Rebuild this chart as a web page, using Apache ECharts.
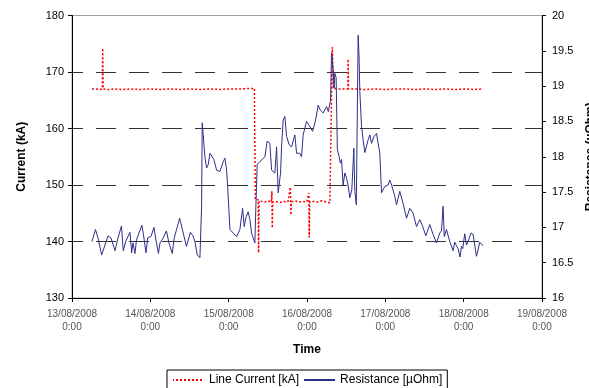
<!DOCTYPE html>
<html>
<head>
<meta charset="utf-8">
<script src="https://cdn.jsdelivr.net/npm/echarts@6/dist/echarts.min.js"></script>
<style>
  html, body { margin: 0; padding: 0; background: #fff; }
  #chart { width: 589px; height: 388px; }
</style>
</head>
<body>
<div id="chart"></div>
<script>
// Time axis runs in hours counted from 13/08/2008 0:00
const START_UTC = Date.UTC(2008, 7, 13, 0, 0);
const dayTicksHours = [0, 24, 48, 72, 96, 120, 144];

// Line current [kA], left axis
const currentHours = [
  6.12, 7.35, 8.57, 9.28, 9.40, 9.55, 11.02, 13.17, 15.31, 17.76, 20.82, 23.88,
  26.95, 30.01, 33.07, 36.13, 39.19, 42.26, 45.32, 48.38, 51.44, 54.50, 55.88,
  56.19, 56.65, 57.04, 57.17, 57.32, 58.18, 59.10, 60.01, 61.09, 61.24, 61.36,
  61.51, 62.46, 63.69, 64.91, 66.14, 66.90, 67.06, 67.21, 68.28, 69.51, 70.73,
  71.96, 72.57, 72.69, 72.82, 74.10, 75.33, 76.55, 77.78, 79.00, 79.46, 79.77,
  80.07, 81.45, 82.98, 84.51, 84.60, 84.73, 86.65, 89.72, 92.78, 95.84, 98.90,
  101.96, 105.03, 108.09, 111.15, 114.21, 117.27, 120.33, 123.40, 125.85
];
const currentValues = [
  167.0, 167.0, 166.9, 167.0, 174.2, 167.0, 166.9, 167.0, 166.9, 167.0, 166.9, 167.0,
  166.9, 167.0, 166.9, 167.0, 166.9, 167.0, 166.9, 167.0, 167.0, 167.1, 167.1,
  147.4, 147.7, 147.4, 138.0, 147.2, 147.1, 147.0, 147.2, 147.0, 148.9, 142.4,
  147.0, 147.1, 146.9, 147.1, 147.0, 149.6, 144.7, 147.0, 147.2, 147.0, 147.1,
  147.0, 148.6, 140.7, 147.0, 147.1, 147.0, 147.2, 147.0, 146.85, 146.5, 174.4,
  167.1, 167.0, 167.0, 167.0, 172.3, 167.0, 167.0, 166.9, 167.0, 166.9, 167.0,
  167.0, 166.9, 167.0, 166.9, 167.0, 166.9, 167.0, 166.9, 167.0
];

// Resistance [µOhm], right axis
const resistanceHours = [
  6.12, 7.20, 7.96, 9.09, 10.10, 11.02, 11.94, 13.17, 14.09, 15.16, 15.71, 16.53,
  17.76, 18.28, 18.68, 19.29, 19.75, 20.52, 21.43, 22.14, 22.66, 23.18, 24.19, 25.11,
  25.72, 26.49, 26.95, 27.96, 28.94, 29.70, 30.71, 31.32, 32.15, 32.98, 34.08, 35.06,
  36.28, 37.05, 37.66, 38.37, 39.19, 39.71, 39.90, 40.20, 40.72, 41.24, 41.74, 42.26,
  42.78, 43.48, 44.31, 45.32, 46.33, 46.85, 47.37, 47.68, 48.07, 48.38, 49.39, 50.43,
  51.44, 52.27, 52.76, 53.28, 53.98, 54.50, 55.02, 55.51, 56.03, 56.34, 56.74, 57.57,
  58.18, 59.10, 59.80, 60.63, 61.15, 62.16, 62.68, 63.17, 63.90, 64.21, 64.70, 65.22,
  65.74, 66.54, 67.27, 68.28, 68.80, 69.81, 70.33, 70.82, 71.87, 72.72, 73.70, 74.56,
  75.42, 76.09, 76.95, 77.99, 78.54, 79.21, 79.52, 80.01, 80.32, 80.53, 80.93, 81.30,
  81.85, 82.21, 82.58, 83.07, 83.59, 84.11, 84.60, 85.12, 85.73, 86.35, 86.65, 87.11,
  87.67, 87.94, 88.19, 88.71, 89.20, 89.72, 90.73, 91.25, 91.77, 92.57, 93.30, 93.79,
  94.31, 94.83, 95.84, 96.85, 97.37, 97.98, 98.90, 99.42, 100.43, 101.44, 102.49, 103.50,
  104.51, 105.55, 106.56, 107.48, 108.40, 109.62, 110.63, 111.67, 112.68, 113.20, 113.69, 114.06,
  114.73, 115.74, 116.75, 117.27, 117.79, 118.28, 118.90, 119.32, 119.72, 120.33, 120.85, 121.34,
  122.26, 122.88, 123.92, 124.41, 124.93, 125.45, 125.94
];
const resistanceValues = [
  16.80, 16.97, 16.85, 16.61, 16.75, 16.88, 16.85, 16.67, 16.85, 17.02, 16.67, 16.81,
  16.93, 16.64, 16.78, 16.63, 16.82, 16.92, 17.03, 16.82, 16.64, 16.85, 16.87, 17.00,
  16.82, 16.63, 16.78, 16.85, 16.95, 16.78, 16.63, 16.85, 16.99, 17.13, 16.92, 16.73,
  16.93, 16.88, 16.80, 16.61, 16.57, 17.30, 18.48, 18.31, 18.00, 17.84, 17.89, 18.05,
  18.07, 17.96, 17.81, 17.79, 17.93, 17.98, 17.81, 17.58, 17.25, 16.97, 16.92, 16.87,
  16.97, 17.27, 17.01, 17.14, 17.22, 17.11, 16.92, 16.85, 16.78, 17.30, 17.89, 17.93,
  17.92, 18.00, 18.22, 18.19, 17.81, 17.77, 18.14, 17.49, 17.77, 18.14, 18.52, 18.57,
  18.29, 18.17, 18.14, 18.31, 18.05, 18.05, 18.00, 18.31, 18.50, 18.44, 18.36, 18.50,
  18.73, 18.66, 18.62, 18.71, 18.64, 18.80, 19.47, 19.23, 18.97, 19.18, 19.12, 18.10,
  18.00, 17.91, 17.96, 17.60, 17.77, 17.70, 17.59, 17.42, 17.53, 18.12, 17.51, 17.32,
  19.72, 19.44, 18.92, 18.43, 18.24, 18.06, 18.24, 18.31, 18.19, 18.29, 18.33, 18.19,
  18.05, 17.49, 17.58, 17.60, 17.67, 17.59, 17.44, 17.32, 17.51, 17.34, 17.13, 17.27,
  17.20, 17.01, 17.11, 17.01, 16.88, 17.04, 16.90, 16.78, 16.92, 16.95, 17.30, 16.87,
  16.97, 16.80, 16.67, 16.79, 16.74, 16.70, 16.58, 16.73, 16.70, 16.91, 16.75, 16.80,
  16.92, 16.90, 16.59, 16.68, 16.79, 16.80, 16.74
];

const pad2 = n => (n < 10 ? '0' : '') + n;
function dayLabel(hours) {
  const d = new Date(START_UTC + hours * 3600000);
  return pad2(d.getUTCDate()) + '/' + pad2(d.getUTCMonth() + 1) + '/' + d.getUTCFullYear() +
    '\n' + d.getUTCHours() + ':' + pad2(d.getUTCMinutes());
}

const FONT = '"Liberation Sans", Arial, sans-serif';
const chart = echarts.init(document.getElementById('chart'), null, { renderer: 'canvas' });

chart.setOption({
  animation: false,
  backgroundColor: '#ffffff',
  textStyle: { fontFamily: FONT },
  grid: {
    left: 72, right: 47, top: 15.5, bottom: 90,
    outerBoundsMode: 'none',
    containLabel: false,
    show: true, borderColor: '#a0a0a0', borderWidth: 1, backgroundColor: 'transparent'
  },
  legend: {
    left: 167, top: 370,
    padding: [4, 5, 4, 5],
    itemGap: 4,
    itemWidth: 31, itemHeight: 12,
    borderColor: '#000', borderWidth: 1,
    itemStyle: { color: 'rgba(0,0,0,0)', borderWidth: 0, opacity: 0 },
    textStyle: { fontFamily: FONT, fontSize: 12, color: '#000' },
    data: ['Line Current [kA]', 'Resistance [µOhm]']
  },
  xAxis: {
    type: 'value',
    min: dayTicksHours[0], max: dayTicksHours[dayTicksHours.length - 1], interval: 24,
    name: 'Time', nameLocation: 'middle', nameGap: 46,
    nameTextStyle: { fontFamily: FONT, fontSize: 12, fontWeight: 'bold', color: '#000' },
    axisLine: { show: true, onZero: false, lineStyle: { color: '#000', width: 1 } },
    axisTick: { show: true, length: 4, lineStyle: { color: '#000' } },
    axisLabel: { formatter: dayLabel, fontFamily: FONT, fontSize: 10, color: '#555', margin: 10, lineHeight: 13 },
    splitLine: { show: false }
  },
  yAxis: [
    {
      type: 'value', position: 'left',
      min: 130, max: 180, interval: 10,
      name: 'Current (kA)', nameLocation: 'middle', nameGap: 44, nameRotate: 90,
      nameTextStyle: { fontFamily: FONT, fontSize: 12, fontWeight: 'bold', color: '#000' },
      axisLine: { show: true, lineStyle: { color: '#000', width: 1 } },
      axisTick: { show: true, length: 4, lineStyle: { color: '#000' } },
      axisLabel: { fontFamily: FONT, fontSize: 11, color: '#000', margin: 8 },
      splitLine: {
        show: true,
        lineStyle: {
          type: [20, 13], dashOffset: 9, width: 1,
          color: ['#333', '#333', '#333', '#333', '#333', 'rgba(0,0,0,0)']
        }
      }
    },
    {
      type: 'value', position: 'right',
      min: 16, max: 20, interval: 0.5,
      name: 'Resistance (µOhm)', nameLocation: 'middle', nameGap: 38, nameRotate: 90,
      nameTextStyle: { fontFamily: FONT, fontSize: 12, fontWeight: 'bold', color: '#000' },
      axisLine: { show: true, lineStyle: { color: '#000', width: 1 } },
      axisTick: { show: true, length: 4, lineStyle: { color: '#000' } },
      axisLabel: { fontFamily: FONT, fontSize: 11, color: '#000', margin: 10 },
      splitLine: { show: false }
    }
  ],
  series: [
    {
      name: 'Line Current [kA]',
      type: 'line', yAxisIndex: 0,
      symbol: 'none', showSymbol: false,
      lineStyle: { color: '#ff0000', width: 1.5, type: [2, 2] },
      itemStyle: { color: '#ff0000' },
      data: currentHours.map((h, i) => [h, currentValues[i]])
    },
    {
      name: 'Resistance [µOhm]',
      type: 'line', yAxisIndex: 1,
      symbol: 'none', showSymbol: false,
      lineStyle: { color: '#2e2e8a', width: 1 },
      itemStyle: { color: '#2e2e8a' },
      data: resistanceHours.map((h, i) => [h, resistanceValues[i]])
    }
  ]
});
</script>
</body>
</html>
